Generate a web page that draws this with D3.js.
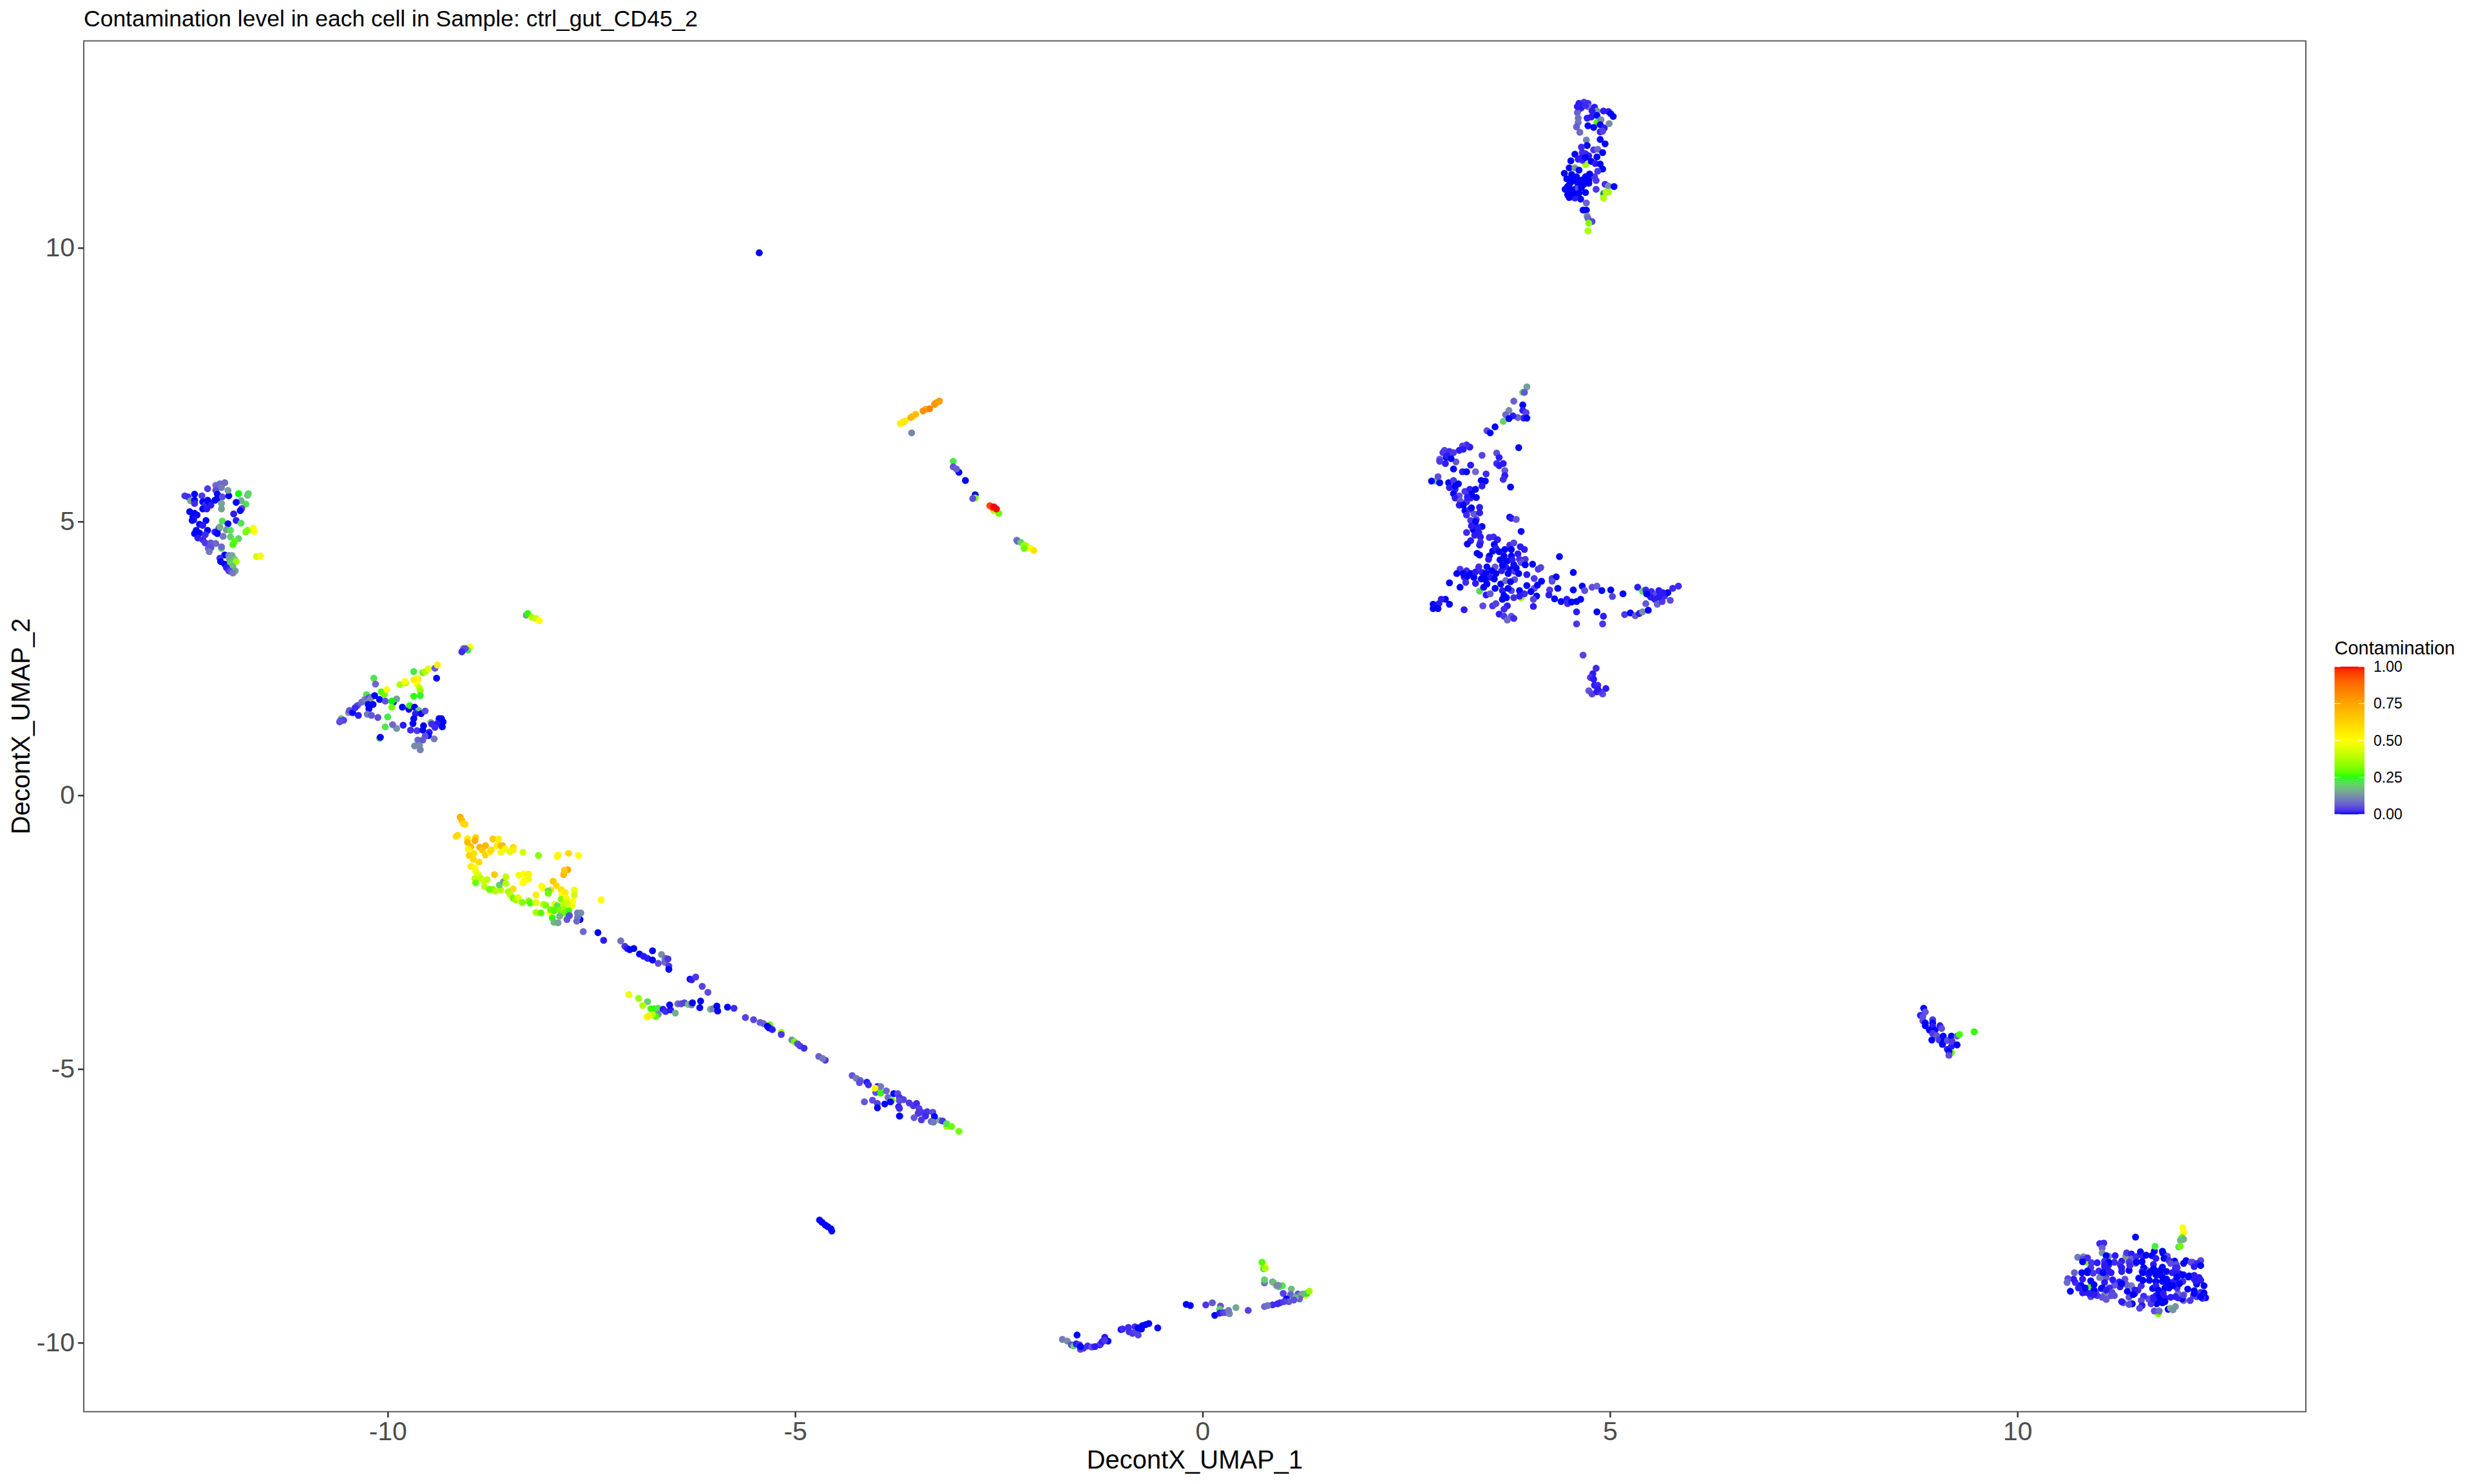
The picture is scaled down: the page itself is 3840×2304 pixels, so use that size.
<!DOCTYPE html>
<html>
<head>
<meta charset="utf-8">
<script src="https://cdn.jsdelivr.net/npm/d3@7"></script>
<style>
body { margin: 0; background: #fff; }
text { font-family: "Liberation Sans", Arial, sans-serif; }
</style>
</head>
<body>
<div id="chart"></div>
<script>
// each cell as [DecontX_UMAP_1, DecontX_UMAP_2, contamination]
const upperLeftCells = [
[-12.04,5.65,.25],[-12.04,4.51,.2],[-12.07,4.88,.01],[-12.49,5.47,.03],[-12.45,5.45,.02],[-12.42,5.38,.15],[-12.37,5.50,0],[-12.37,5.39,0],[-12.37,5.33,.02],[-12.28,5.47,.03],[-12.27,5.36,0],[-12.24,5.30,.02],[-12.21,5.60,.03],[-12.21,5.39,0],[-12.20,5.36,0],[-12.27,5.23,0],[-12.22,5.23,.01],[-12.17,5.30,.01],[-12.12,5.39,0],[-12.09,5.42,0],[-12.11,5.66,.08],[-12.06,5.69,.08],[-12.00,5.71,.08],[-12.04,5.62,.1],[-12.11,5.57,.05],[-12.09,5.50,0],[-12.03,5.45,.05],[-11.95,5.47,0],[-11.96,5.57,.14],[-12.04,5.33,.15],[-12.04,5.23,.14],[-11.83,5.51,.25],[-11.72,5.48,.18],[-11.71,5.51,.2],[-11.74,5.32,.22],[-11.80,5.38,.16],[-11.86,5.35,0],[-11.79,5.24,.04],[-11.81,5.20,0],[-11.89,5.14,.01],[-11.86,5.02,.01],[-11.80,4.97,.22],[-12.03,5.01,.22],[-11.96,4.96,0],[-12.23,5.02,0],[-12.43,5.18,0],[-12.37,5.15,0],[-12.34,5.12,0],[-12.39,5.09,0],[-12.38,5.03,.01],[-12.40,5.02,0],[-12.31,4.95,0],[-12.27,4.93,.01],[-12.21,4.84,0],[-12.35,4.84,0],[-12.31,4.79,0],[-12.37,4.78,0],[-12.33,4.70,.01],[-12.24,4.76,.02],[-12.12,4.81,.01],[-12.09,4.78,0],[-12.06,4.90,.16],[-11.98,4.85,.14],[-11.93,4.84,.22],[-11.74,4.81,.3],[-11.72,4.84,.32],[-11.65,4.88,.5],[-11.64,4.82,.5],[-11.83,4.69,.2],[-12.02,4.73,.1],[-11.93,4.72,.2],[-11.88,4.64,.28],[-11.90,4.58,.27],[-12.27,4.67,.02],[-12.24,4.61,.03],[-12.17,4.61,.06],[-12.11,4.60,.08],[-12.20,4.51,.06],[-12.17,4.52,.05],[-12.04,4.54,.08],[-12.19,4.45,.1],[-11.61,4.36,.42],[-11.56,4.37,.52],[-12.00,4.39,0],[-12.06,4.33,.02],[-12.05,4.27,0],[-12.00,4.22,0],[-11.95,4.38,.12],[-11.91,4.38,.15],[-11.94,4.31,.15],[-11.88,4.31,.18],[-11.93,4.24,.2],[-11.86,4.27,.35],[-11.90,4.18,.18],[-11.98,4.16,.01],[-11.95,4.10,.02],[-11.93,4.09,.05],[-11.87,4.10,.15],[-11.90,4.06,.1]
];
const midLeftCells = [
[-10.57,1.40,.18],[-10.58,1.36,.05],[-10.54,1.37,.04],[-10.59,1.34,.05],[-10.48,1.51,.12],[-10.47,1.55,.06],[-10.43,1.51,0],[-10.36,1.46,.01],[-10.37,1.64,.05],[-10.40,1.60,.02],[-10.32,1.70,.08],[-10.26,1.84,.22],[-10.28,1.75,.1],[-10.23,1.78,.05],[-10.20,1.79,.1],[-10.16,1.82,0],[-10.22,1.74,.12],[-10.24,1.66,0],[-10.18,1.66,0],[-10.23,1.58,0],[-10.25,1.48,.1],[-10.20,1.46,.06],[-10.12,1.42,.05],[-10.10,1.75,0],[-10.03,1.72,.05],[-9.93,1.70,0],[-9.89,1.76,.14],[-9.95,1.72,.25],[-9.95,1.61,.3],[-9.82,1.61,0],[-9.74,1.57,0],[-9.73,1.64,.26],[-9.67,1.61,0],[-9.62,1.55,.18],[-9.66,1.49,.01],[-9.59,1.49,0],[-9.54,1.54,.05],[-9.68,1.40,0],[-9.69,1.31,0],[-9.81,1.28,.01],[-9.89,1.22,.13],[-9.94,1.29,.08],[-10.00,1.43,.23],[-10.03,1.25,.22],[-9.72,1.19,.02],[-9.64,1.18,.03],[-9.56,1.27,0],[-9.57,1.19,0],[-9.47,1.33,.16],[-9.46,1.30,.02],[-9.37,1.40,0],[-9.34,1.40,0],[-9.32,1.34,0],[-9.39,1.31,.01],[-9.42,1.24,.02],[-9.33,1.25,0],[-9.49,1.15,.01],[-9.50,1.09,0],[-9.54,1.08,.05],[-9.63,1.01,.08],[-9.57,1.01,.06],[-9.43,1.03,.1],[-9.67,.90,.12],[-9.61,.91,.12],[-9.60,.83,.11],[-10.10,1.04,.2],[-10.09,1.06,0],[-10.17,2.14,.22],[-10.15,2.03,.08],[-10.08,1.89,.28],[-10.04,1.84,.3],[-10.01,1.93,.5],[-9.85,2.02,.37],[-9.78,2.05,.4],[-9.79,2.08,.5],[-9.68,2.26,.23],[-9.57,2.24,.3],[-9.54,2.26,.38],[-9.50,2.31,.45],[-9.42,2.32,.07],[-9.39,2.38,.55],[-9.63,2.12,.7],[-9.64,2.12,.5],[-9.68,2.11,.55],[-9.64,2.03,.5],[-9.61,1.96,.4],[-9.60,1.91,.35],[-9.68,1.81,.26],[-9.60,1.82,.24],[-9.40,2.14,0],[-8.99,2.71,.5],[-9.02,2.65,.23],[-9.07,2.68,.1],[-9.05,2.68,.05],[-9.09,2.62,.02],[-8.30,3.29,.15],[-8.28,3.32,.26],[-8.23,3.25,.38],[-8.18,3.23,.42],[-8.14,3.19,.5]
];
const fanCells = [
[-9.11,-.40,.72],[-9.09,-.46,.68],[-9.07,-.52,.62],[-9.05,-.53,.6],[-9.16,-.75,.6],[-9.14,-.73,.6],[-9.02,-.79,.55],[-8.92,-.77,.62],[-9.02,-.86,.7],[-8.93,-.83,.72],[-8.98,-.94,.68],[-8.87,-.95,.72],[-8.84,-1.00,.65],[-8.80,-.92,.7],[-8.80,-1.09,.62],[-8.75,-1.04,.55],[-8.73,-1.00,.6],[-8.71,-.80,.65],[-8.64,-.80,.55],[-8.66,-.92,.55],[-8.61,-.92,.68],[-8.59,-.92,.7],[-8.61,-1.04,.48],[-8.56,-.98,.48],[-8.50,-1.03,.45],[-8.46,-.95,.6],[-8.46,-1.00,.55],[-8.34,-1.04,.43],[-8.15,-1.10,.33],[-7.92,-1.12,.52],[-7.91,-1.09,.52],[-7.78,-1.06,.6],[-7.66,-1.10,.5],[-9.01,-.98,.52],[-8.94,-1.06,.58],[-9.00,-1.10,.62],[-8.95,-1.17,.6],[-8.88,-1.22,.6],[-8.98,-1.30,.55],[-8.93,-1.33,.52],[-8.92,-1.39,.48],[-8.89,-1.45,.45],[-8.93,-1.52,.4],[-8.86,-1.51,.4],[-8.82,-1.57,.42],[-8.78,-1.54,.4],[-8.92,-1.60,.3],[-8.81,-1.67,.4],[-8.75,-1.72,.3],[-8.71,-1.72,.3],[-8.68,-1.75,.38],[-8.61,-1.73,.4],[-8.63,-1.64,.2],[-8.58,-1.58,.14],[-8.55,-1.49,.4],[-8.55,-1.61,.38],[-8.69,-1.45,.65],[-8.39,-1.46,.48],[-8.33,-1.44,.5],[-8.27,-1.44,.53],[-8.27,-1.53,.47],[-8.34,-1.60,.5],[-8.33,-1.57,.5],[-8.46,-1.71,.6],[-8.52,-1.76,.36],[-8.50,-1.81,.4],[-8.46,-1.88,.3],[-8.43,-1.91,.35],[-8.40,-1.87,.45],[-8.35,-1.96,.32],[-8.27,-1.93,.33],[-8.25,-1.97,.28],[-8.18,-1.82,.55],[-8.18,-1.96,.45],[-8.09,-1.99,.4],[-8.06,-2.01,.32],[-8.18,-2.14,.38],[-8.12,-2.15,.28],[-8.01,-2.14,.5],[-7.79,-1.36,.75],[-7.84,-1.45,.7],[-7.83,-1.37,.65],[-7.97,-1.57,.65],[-7.93,-1.65,.6],[-8.11,-1.66,.5],[-8.10,-1.69,.5],[-8.00,-1.73,.6],[-8.03,-1.75,.2],[-8.03,-1.79,.3],[-7.87,-1.72,.58],[-7.86,-1.81,.5],[-7.82,-1.78,.55],[-7.71,-1.73,.48],[-7.71,-1.82,.42],[-7.87,-1.90,.32],[-7.81,-1.88,.5],[-7.73,-1.93,.5],[-7.74,-2.02,.48],[-7.95,-1.99,.45],[-7.92,-2.02,.22],[-7.84,-1.99,.4],[-7.80,-1.97,.42],[-8.00,-2.09,.3],[-7.96,-2.11,.28],[-7.89,-2.09,.3],[-7.84,-2.08,.35],[-7.78,-2.11,.27],[-7.83,-2.15,.3],[-7.78,-2.17,.24],[-7.98,-2.24,.26],[-7.89,-2.21,.17],[-7.96,-2.32,.17],[-7.91,-2.33,.15],[-7.64,-2.27,0],[-7.67,-2.15,.1],[-7.63,-2.15,.12],[-7.67,-2.23,.1],[-7.68,-2.30,.08],[-7.80,-2.27,.06],[-7.77,-2.20,.05],[-7.38,-1.91,.5]
];
const diagonalCells = [
[-7.60,-2.49,.08],[-7.42,-2.51,0],[-7.35,-2.65,.01],[-7.14,-2.66,.09],[-7.09,-2.76,.03],[-7.06,-2.80,.01],[-7.03,-2.82,0],[-6.98,-2.80,0],[-6.75,-2.84,0],[-6.91,-2.90,0],[-6.86,-2.94,.01],[-6.81,-2.98,.01],[-6.75,-3.01,0],[-6.68,-3.07,.05],[-6.64,-2.91,.12],[-6.60,-3.00,.3],[-6.59,-2.98,.08],[-6.60,-3.05,.08],[-6.56,-2.99,.03],[-6.55,-3.12,.03],[-6.55,-3.18,0],[-6.29,-3.36,0],[-6.27,-3.37,.01],[-6.22,-3.32,.03],[-6.14,-3.49,.04],[-6.07,-3.60,.05],[-7.04,-3.64,.47],[-6.92,-3.71,.35],[-6.81,-3.77,.2],[-6.87,-3.84,.38],[-6.77,-3.90,.27],[-6.73,-3.90,.26],[-6.68,-3.89,.22],[-6.68,-4.00,.12],[-6.71,-4.04,.28],[-6.75,-4.01,.4],[-6.82,-4.05,.52],[-6.80,-4.03,.55],[-6.62,-3.91,.01],[-6.59,-3.95,.02],[-6.53,-3.92,.01],[-6.54,-3.83,0],[-6.47,-3.98,.16],[-6.44,-3.81,.08],[-6.40,-3.81,.05],[-6.36,-3.79,.04],[-6.31,-3.82,.18],[-6.27,-3.83,.1],[-6.26,-3.79,0],[-6.16,-3.76,0],[-6.17,-3.88,0],[-6.04,-3.91,.18],[-6.01,-3.90,.1],[-5.96,-3.85,0],[-5.95,-3.94,0],[-5.83,-3.87,0],[-5.75,-3.89,.02],[-5.61,-4.06,.04],[-5.51,-4.10,.04],[-5.43,-4.15,.06],[-5.39,-4.17,.07],[-5.31,-4.19,.3],[-5.34,-4.22,0],[-5.32,-4.25,0],[-5.28,-4.28,.01],[-5.17,-4.33,.35],[-5.17,-4.37,.03],[-5.04,-4.47,.12],[-5.01,-4.50,.3],[-4.97,-4.54,.05],[-4.94,-4.58,.04],[-4.89,-4.62,.02],[-4.71,-4.77,.07],[-4.63,-4.84,.03],[-4.66,-4.81,.1],
[-4.30,-5.12,.06],[-4.25,-5.17,.1],[-4.20,-5.21,.07],[-4.21,-5.25,.05],[-4.12,-5.24,.01],[-4.10,-5.29,.02],[-3.99,-5.32,.01],[-3.95,-5.32,.1],[-4.01,-5.43,.05],[-4.02,-5.35,.52],[-3.95,-5.44,.26],[-3.88,-5.40,.08],[-3.79,-5.45,0],[-3.74,-5.45,.05],[-3.86,-5.52,.08],[-3.81,-5.57,.32],[-3.83,-5.60,0],[-3.72,-5.52,.03],[-3.67,-5.56,.04],[-3.72,-5.58,.05],[-4.15,-5.60,.06],[-4.05,-5.57,.05],[-3.99,-5.63,.04],[-3.99,-5.71,0],[-3.90,-5.64,0],[-3.73,-5.69,.01],[-3.72,-5.72,.02],[-3.60,-5.62,.03],[-3.55,-5.67,.03],[-3.51,-5.63,.02],[-3.48,-5.72,.04],[-3.49,-5.81,.03],[-3.45,-5.79,.03],[-3.38,-5.78,.03],[-3.31,-5.79,.05],[-3.40,-5.86,.02],[-3.29,-5.87,0],[-3.54,-5.89,.06],[-3.45,-5.93,.03],[-3.33,-5.96,.08],[-3.30,-5.97,.1],[-3.22,-5.94,.15],[-3.19,-5.95,.03],[-3.71,-5.86,.17],[-3.72,-5.86,0],[-3.14,-6.05,.35],[-3.14,-6.00,.22],[-3.08,-6.05,.3],[-2.99,-6.14,.3]
];
const upperStreakCells = [
[-3.71,6.79,.52],[-3.67,6.82,.85],[-3.65,6.84,.55],[-3.69,6.80,.55],[-3.58,6.90,.72],[-3.56,6.92,.7],[-3.52,6.96,.68],[-3.40,7.05,.72],[-3.43,7.02,.8],[-3.35,7.06,.83],[-3.29,7.14,.78],[-3.27,7.17,.8],[-3.23,7.20,.82],[-3.24,7.19,.76],[-3.57,6.62,.11],[-3.06,6.10,.23],[-3.06,6.00,.06],[-2.99,5.90,0],[-3.02,5.96,.07],[-2.91,5.75,0],[-2.79,5.49,0],[-2.79,5.43,.32],[-2.82,5.42,.05],[-2.56,5.20,.4],[-2.50,5.15,.3],[-2.61,5.29,.95],[-2.58,5.26,.95],[-2.56,5.27,1],[-2.53,5.23,1],[-2.28,4.66,.1],[-2.27,4.64,.08],[-2.23,4.62,.2],[-2.16,4.55,.4],[-2.19,4.57,.35],[-2.11,4.51,.5],[-2.07,4.47,.58],[-2.19,4.51,.3]
];
const lowerStripCells = [
[-1.72,-9.94,.1],[-1.66,-9.97,.12],[-1.54,-9.86,0],[-1.61,-10.04,.05],[-1.58,-10.06,.2],[-1.55,-10.02,.01],[-1.51,-10.04,.03],[-1.50,-10.12,.05],[-1.46,-10.10,.03],[-1.50,-10.07,0],[-1.41,-10.06,.02],[-1.36,-10.08,.05],[-1.32,-10.07,.01],[-1.26,-10.04,.01],[-1.25,-10.02,.03],[-1.23,-9.98,.01],[-1.20,-9.90,.01],[-1.16,-9.97,0],[-1.20,-9.96,.03],[-1.00,-9.76,0],[-.98,-9.75,.02],[-.91,-9.72,.02],[-.90,-9.80,.02],[-.86,-9.83,.03],[-.83,-9.71,.02],[-.82,-9.80,.04],[-.79,-9.86,.04],[-.79,-9.73,0],[-.75,-9.75,0],[-.74,-9.69,0],[-.70,-9.67,0],[-.66,-9.65,0],[-.55,-9.73,0],[-.20,-9.30,0],[-.15,-9.32,0],[.04,-9.31,.03],[.12,-9.27,.06],[.22,-9.33,.06],[.21,-9.39,.2],[.15,-9.50,0],[.21,-9.46,.01],[.25,-9.45,.03],[.28,-9.45,.05],[.33,-9.47,.12],[.32,-9.41,.1],[.41,-9.36,.15],[.56,-9.41,.04],[.75,-8.59,.5],[.73,-8.53,.28],[.75,-8.65,.22],[.77,-8.64,.38],[.76,-8.91,.09],[.76,-8.85,.2],[.86,-8.89,.12],[.87,-8.90,.18],[.98,-8.96,.23],[.94,-8.98,.2],[.91,-8.96,.12],[.93,-8.95,.12],[1.09,-9.02,.17],[.99,-9.10,.04],[1.08,-9.12,.07],[1.25,-9.14,.5],[1.28,-9.10,.25],[1.31,-9.06,.35],[1.17,-9.11,.06],[1.23,-9.11,.17],[1.21,-9.13,.16],[1.19,-9.20,.07],[1.14,-9.17,.16],[1.12,-9.22,.05],[1.03,-9.20,0],[1.06,-9.25,.06],[1.00,-9.25,.04],[.95,-9.27,.03],[.92,-9.29,.02],[.86,-9.31,.02],[.76,-9.34,.08],[.80,-9.32,.09]
];
const starCells = [
[3.91,3.61,.35],[3.40,3.73,.2],[3.98,7.46,.14],[3.93,7.36,.2],[3.95,7.36,.06],[3.82,7.20,.07],[3.76,7.03,.12],[3.69,6.83,.2],[3.72,6.95,.08],[3.93,7.13,0],[3.93,7.03,.01],[3.97,6.99,.04],[3.94,6.89,.01],[3.98,6.89,0],[3.87,6.90,.07],[3.81,6.93,.01],[3.76,6.88,0],[3.59,6.73,0],[3.49,6.66,.05],[3.53,6.62,0],[3.88,6.35,0],[3.28,6.36,.01],[3.24,6.40,.02],[3.19,6.38,.04],[3.15,6.30,.01],[2.97,6.30,.04],[3.03,6.28,.02],[3.08,6.26,.03],[2.95,6.26,.03],[2.91,6.14,.06],[2.99,6.17,0],[3.11,6.09,.06],[2.98,6.06,.01],[2.91,6.10,.03],[3.08,5.96,0],[3.29,6.03,.01],[3.43,6.21,.04],[3.61,6.25,.05],[3.64,6.17,.01],[3.61,6.06,.02],[3.69,6.06,.01],[3.64,6.02,.01],[3.71,5.93,.06],[3.71,5.84,.01],[3.69,5.77,.02],[3.78,5.63,0],[3.19,5.91,.01],[3.24,5.91,0],[3.35,5.91,.08],[3.48,5.87,.02],[3.47,5.74,0],[3.42,5.75,0],[3.43,5.65,.01],[2.86,5.74,.2],[2.81,5.74,0],[2.91,5.71,0],[2.89,5.82,.05],[3.02,5.71,0],[3.08,5.75,.03],[3.14,5.69,0],[3.03,5.62,.01],[3.10,5.59,.02],[3.08,5.51,0],[3.15,5.47,.05],[3.10,5.43,.01],[3.22,5.55,.03],[3.28,5.59,.01],[3.35,5.59,0],[3.29,5.43,.01],[3.36,5.44,0],[3.16,5.38,.06],[3.15,5.30,.01],[3.24,5.36,.02],[3.40,5.26,.01],[3.22,5.20,0],[3.28,5.22,.02],[3.33,5.14,.06],[3.40,5.16,.01],[3.24,5.12,.02],[3.29,5.02,.03],[3.36,5.04,.04],[3.35,4.94,.02],[3.43,4.91,0],[3.32,4.86,.01],[3.24,4.80,.02],[3.33,4.84,0],[3.39,4.80,.01],[3.34,4.75,.01],[3.41,4.72,.01],[3.29,4.65,.01],[3.25,4.59,0],[3.41,4.62,.02],[3.40,4.57,.01],[3.37,4.42,0],[3.40,4.39,0],[3.77,5.08,0],[3.79,5.06,.01],[3.85,5.04,.06],[3.91,4.82,0],[3.52,4.71,.02],[3.57,4.72,.02],[3.62,4.67,.01],[3.58,4.58,0],[3.56,4.46,0],[3.60,4.51,.01],[3.64,4.45,0],[3.52,4.37,0],[3.51,4.31,.01],[3.71,4.49,0],[3.77,4.57,.02],[3.82,4.61,.04],[3.90,4.54,.01],[3.95,4.49,.01],[3.79,4.49,0],[3.87,4.41,.01],[3.70,4.37,0],[3.79,4.37,0],[3.89,4.31,.02],[3.96,4.31,.03],[3.70,4.25,.01],[3.74,4.28,0],[3.82,4.21,0],[3.91,4.25,.05],[3.96,4.21,0],[3.72,4.17,.01],[3.78,4.12,0],[3.83,4.09,.03],[3.88,4.05,0],[3.67,4.10,.01],[3.59,4.17,.06],[3.49,4.17,0],[3.39,4.17,.02],[3.43,4.07,.01],[3.48,4.05,0],[3.53,3.98,.01],[3.47,3.94,0],[3.16,4.13,.03],[3.12,4.05,0],[3.24,4.10,.02],[3.29,4.05,0],[3.33,3.98,0],[3.21,3.99,.01],[3.03,3.88,0],[3.16,3.80,0],[3.23,3.89,.02],[3.35,3.87,.01],[3.66,3.86,0],[3.72,3.92,.08],[3.83,3.94,.05],[3.78,3.90,0],[3.49,3.86,0],[3.48,3.66,.01],[3.53,3.68,.06],[3.59,3.78,0],[3.68,3.74,.01],[3.70,3.65,0],[3.79,3.74,.04],[3.89,3.74,0],[3.98,3.83,0],[4.05,4.22,0],[3.98,4.03,.01],[4.07,3.96,.03],[4.12,4.13,.03],[4.15,4.16,.04],[4.16,3.91,0],[4.07,3.78,.05],[4.11,3.84,0],[4.03,3.72,0],[3.95,3.68,.02],[3.89,3.64,.01],[3.82,3.61,.02],[3.68,3.58,0],[3.73,3.61,0],[4.10,3.64,0],[4.06,3.58,.04],[4.06,3.45,.01],[3.44,3.46,.05],[3.21,3.39,.01],[3.03,3.49,0],[2.98,3.58,0],[2.93,3.58,.01],[2.90,3.50,.01],[2.83,3.49,0],[2.89,3.41,0],[2.83,3.41,0],[3.56,3.46,.03],[3.60,3.50,.04],[3.74,3.46,.01],[3.70,3.40,.02],[3.64,3.31,.01],[3.70,3.27,.03],[3.79,3.27,.06],[3.74,3.20,.08],[3.82,3.23,.02],[4.29,3.96,.03],[4.34,3.99,0],[4.29,3.91,.05],[4.36,3.78,0],[4.26,3.75,.03],[4.25,3.66,.01],[4.32,3.59,0],[4.38,4.36,0],[4.55,4.07,0],[4.55,3.75,0],[4.40,3.54,0],[4.47,3.58,.01],[4.48,3.50,.02],[4.53,3.53,0],[4.59,3.54,0],[4.64,3.58,0],[4.59,3.35,.01],[4.59,3.13,.03],[4.66,3.82,0],[4.69,3.74,.05],[4.78,3.80,.05],[4.84,3.82,.07],[4.90,3.74,0],[5.01,3.75,0],[5.03,3.63,.04],[5.16,3.68,0],[4.84,3.35,0],[4.92,3.27,.01],[4.91,3.13,.03],[5.18,3.30,.03],[5.25,3.33,0],[5.31,3.28,.06],[5.36,3.32,.01],[5.40,3.35,.12],[5.47,3.38,0],[5.44,3.50,.06],[5.34,3.80,.01],[5.40,3.73,.2],[5.44,3.75,.02],[5.48,3.66,.02],[5.51,3.72,.02],[5.56,3.66,.05],[5.60,3.74,.01],[5.55,3.58,.01],[5.58,3.49,.07],[5.64,3.54,.03],[5.67,3.64,.02],[5.71,3.70,0],[5.74,3.56,.05],[5.77,3.78,.02],[5.84,3.82,.02],[4.67,2.56,.04],[4.83,2.32,.02],[4.79,2.22,.01],[4.76,2.15,.03],[4.80,2.12,.01],[4.81,2.01,.01],[4.85,2.01,.02],[4.95,1.95,.01],[4.74,1.91,.06],[4.78,1.85,.04],[4.84,1.89,.01],[4.91,1.85,.05],[4.88,1.89,.03],[4.85,1.94,.01],
[3.68,4.20,0],[3.75,4.05,0],[3.85,4.15,0],[3.80,4.30,.01],[3.65,4.30,0],[3.60,4.05,0],[3.55,4.10,0],[3.45,4.00,0],[3.25,4.00,0],[3.35,4.08,.01],[3.20,4.05,0],[3.42,3.95,0],[3.58,3.95,0],[3.75,3.78,0],[3.45,3.80,0],[3.30,5.50,0],[3.25,5.45,.01],[3.30,5.25,0],[3.20,5.30,0],[3.35,5.00,0],[3.38,4.88,.01],[3.30,4.92,.01],[3.10,5.65,0],[3.00,6.20,.01],[3.05,6.15,0],[3.20,6.32,.01],[5.50,3.62,.01],[5.45,3.68,0],[5.60,3.62,.01],[5.65,3.70,.01]
];
const topBlobCells = [
[4.84,12.29,.28],[4.70,11.52,.36],[4.92,10.99,.25],[4.62,12.64,.01],[4.68,12.66,.03],[4.73,12.64,.02],[4.65,12.56,.01],[4.73,12.58,.08],[4.81,12.57,.01],[4.84,12.50,.14],[4.62,12.53,.01],[4.60,12.47,.07],[4.92,12.50,.01],[4.98,12.49,.01],[5.01,12.45,0],[5.04,12.40,0],[4.72,12.37,.01],[4.77,12.39,.01],[4.84,12.42,0],[4.61,12.37,.09],[4.61,12.29,.09],[4.59,12.21,.07],[4.63,12.11,.08],[4.73,12.23,0],[4.80,12.20,0],[4.89,12.34,.12],[4.88,12.25,0],[4.93,12.19,.01],[4.99,12.27,.12],[4.88,12.12,.01],[4.91,12.13,.04],[4.71,11.97,.11],[4.88,11.98,0],[4.94,11.90,0],[4.72,11.87,0],[4.65,11.84,.02],[4.80,11.79,.03],[4.85,11.80,.08],[4.91,11.74,0],[4.57,11.71,0],[4.66,11.74,.02],[4.70,11.72,.02],[4.74,11.68,.01],[4.84,11.66,0],[4.52,11.59,0],[4.61,11.62,.01],[4.66,11.60,.02],[4.77,11.58,0],[4.82,11.54,.01],[4.88,11.53,0],[4.50,11.46,0],[4.57,11.46,.13],[4.62,11.42,0],[4.91,11.44,0],[4.85,11.40,.03],[4.44,11.36,0],[4.53,11.34,0],[4.59,11.30,0],[4.81,11.30,.03],[4.66,11.24,0],[4.74,11.24,0],[4.83,11.23,.03],[4.47,11.26,0],[4.53,11.21,0],[4.61,11.15,.01],[4.68,11.16,0],[4.74,11.18,0],[4.45,11.07,0],[4.51,11.07,0],[4.57,11.07,0],[4.61,11.09,.05],[4.70,11.01,0],[4.48,10.97,0],[4.56,10.95,0],[4.64,10.89,0],[4.57,10.91,.01],[4.83,11.07,.03],[4.94,11.16,.02],[4.98,11.13,.12],[5.05,11.12,0],[4.93,11.00,.05],[4.95,11.02,.37],[4.98,11.02,.37],[4.92,10.91,.38],[4.71,10.82,.07],[4.67,10.69,0],[4.71,10.69,0],[4.72,10.58,.12],[4.73,10.54,.08],[4.78,10.48,.04],[4.74,10.45,.32],[4.73,10.31,.37],
[4.50,11.15,0],[4.55,11.25,0],[4.60,11.20,0],[4.55,11.00,0],[4.48,11.12,0],[4.50,10.92,0],[4.62,11.00,0],[4.65,11.10,0],[4.70,11.30,0],[4.75,11.35,0],[4.65,11.65,.01],[4.70,11.65,0],[4.65,12.60,.01],[4.70,12.60,.02],[4.60,12.58,.01],[4.78,12.50,.01]
];
const rightSmallCells = [
[8.85,-3.89,0],[8.87,-3.96,.06],[8.81,-4.02,.01],[8.84,-4.04,.05],[8.84,-4.12,.05],[8.87,-4.16,0],[8.87,-4.21,0],[8.96,-4.10,.03],[8.96,-4.16,0],[8.96,-4.22,.01],[9.05,-4.21,.01],[9.07,-4.26,.05],[8.92,-4.29,0],[8.99,-4.29,0],[8.96,-4.35,.03],[9.01,-4.39,.06],[8.95,-4.47,0],[9.04,-4.47,.03],[9.09,-4.40,0],[9.08,-4.55,0],[9.10,-4.49,0],[9.14,-4.48,.05],[9.19,-4.40,0],[9.19,-4.59,.01],[9.20,-4.50,.03],[9.26,-4.40,.08],[9.29,-4.37,.27],[9.26,-4.56,0],[9.47,-4.32,.26],[9.19,-4.70,.3],[9.14,-4.64,.01],[9.16,-4.68,0],[9.16,-4.75,.05]
];
const bottomBlobCells = [
[11.73,-9.47,.3],[10.84,-8.53,.3],[10.89,-8.98,.28],[11.34,-8.43,.28],[11.78,-8.36,.28],[11.45,-8.07,0],[11.06,-8.18,.02],[11.01,-8.19,.02],[11.04,-8.27,.07],[11.04,-8.36,.13],[11.12,-8.42,.12],[11.09,-8.41,0],[11.20,-8.41,.01],[10.74,-8.44,.1],[10.81,-8.43,.12],[10.80,-8.47,.05],[10.86,-8.45,.02],[10.80,-8.52,0],[10.91,-8.54,.03],[10.98,-8.54,.01],[10.90,-8.63,.03],[11.07,-8.51,.02],[11.12,-8.58,.01],[11.19,-8.53,.02],[11.28,-8.51,.01],[11.26,-8.57,.02],[11.28,-8.63,.01],[11.28,-8.70,.01],[11.37,-8.68,0],[11.33,-8.42,.14],[11.34,-8.36,.03],[11.40,-8.38,.01],[11.40,-8.47,.07],[11.45,-8.55,.08],[11.37,-8.53,.03],[11.38,-8.59,.02],[11.46,-8.43,.02],[11.51,-8.34,0],[11.54,-8.42,.01],[11.53,-8.52,0],[11.58,-8.40,0],[11.65,-8.41,0],[11.68,-8.33,0],[11.70,-8.46,.01],[11.69,-8.24,.23],[11.78,-8.33,0],[11.79,-8.37,0],[11.84,-8.42,.05],[11.80,-8.46,0],[11.86,-8.50,.02],[11.93,-8.51,0],[11.88,-8.55,.05],[11.95,-8.57,.05],[11.78,-8.62,0],[11.77,-8.65,0],[11.67,-8.57,.01],[11.67,-8.65,0],[11.59,-8.68,.08],[11.55,-8.63,0],[11.53,-8.70,.02],[11.61,-8.76,.01],[11.70,-8.69,0],[11.75,-8.72,0],[11.83,-8.70,0],[11.94,-8.64,.01],[11.96,-8.63,.02],[11.90,-8.72,.01],[12.04,-8.55,0],[12.07,-8.50,0],[12.15,-8.53,.05],[12.13,-8.53,.05],[12.25,-8.50,.04],[12.21,-8.55,.02],[12.17,-8.61,.01],[12.25,-8.59,0],[11.99,-8.74,.01],[11.94,-8.74,.01],[12.04,-8.76,.01],[12.11,-8.78,0],[12.17,-8.77,.01],[12.23,-8.81,.01],[12.25,-8.86,.01],[12.20,-8.93,0],[12.19,-8.88,.01],[12.29,-8.96,0],[12.09,-9.02,0],[12.17,-9.05,0],[12.25,-9.08,.03],[12.29,-9.09,0],[12.31,-9.18,0],[12.27,-9.19,.02],[12.20,-9.16,.03],[12.16,-9.14,.04],[12.12,-9.23,.03],[12.04,-9.23,.07],[12.02,-9.20,0],[11.97,-9.18,.01],[11.97,-9.10,.08],[12.04,-9.13,.04],[11.88,-9.17,.01],[11.78,-9.27,0],[11.71,-9.29,0],[11.81,-9.18,.01],[11.86,-9.00,0],[11.83,-8.96,0],[11.88,-8.90,.01],[11.94,-8.86,.01],[11.96,-9.00,.02],[12.03,-8.88,.02],[11.78,-8.88,0],[11.70,-8.88,0],[11.66,-9.01,0],[11.70,-8.96,.01],[11.62,-8.86,0],[11.75,-9.08,.02],[11.70,-9.14,.01],[11.66,-9.18,.01],[11.61,-9.20,.05],[11.64,-9.29,.03],[11.68,-9.42,.05],[11.74,-9.42,.08],[11.85,-9.39,0],[11.94,-9.34,.13],[11.88,-9.37,.16],[11.91,-9.40,.13],[11.55,-9.15,.02],[11.52,-9.23,.05],[11.53,-9.32,.01],[11.50,-9.37,.04],[11.41,-9.29,0],[11.37,-9.30,.05],[11.30,-9.27,.06],[11.28,-9.25,.01],[11.37,-9.17,.05],[11.35,-9.06,0],[11.44,-9.10,.01],[11.48,-9.04,.02],[11.52,-8.96,.02],[11.49,-8.82,0],[11.54,-8.86,0],[11.40,-8.96,.1],[11.34,-8.94,.07],[11.32,-8.84,.05],[11.25,-8.89,.01],[11.26,-8.98,.01],[11.19,-8.95,.06],[11.17,-8.85,.01],[11.09,-8.81,.06],[11.01,-8.81,.1],[11.15,-8.72,.01],[11.09,-8.72,.02],[11.07,-8.90,.01],[11.13,-9.00,.02],[11.03,-9.01,0],[11.16,-9.08,.04],[11.19,-9.14,.05],[11.15,-9.14,.05],[11.07,-9.12,.11],[11.09,-9.21,.06],[11.04,-9.17,.06],[10.98,-9.14,.03],[10.96,-9.08,.03],[10.90,-9.16,.04],[10.80,-9.09,.01],[10.84,-9.08,.01],[10.83,-9.00,0],[10.78,-8.95,0],[10.75,-9.00,.01],[10.71,-8.90,.02],[10.69,-8.84,.01],[10.62,-8.83,.05],[10.61,-8.90,.08],[10.65,-9.06,0],[10.80,-8.84,.01],[10.90,-8.87,0],[10.94,-8.94,0],[10.70,-8.72,.07],[10.79,-8.72,0],[10.86,-8.72,0],[10.93,-8.73,.03],[11.00,-8.69,.02],[12.03,-7.90,.5],[12.04,-7.98,.5],[12.02,-8.08,.28],[12.04,-8.11,.16],[12.00,-8.13,.17],[11.98,-8.25,.2],[12.00,-8.24,.3],
[11.73,-8.76,0],[11.78,-8.80,0],[11.83,-8.84,0],[11.86,-8.94,0],[11.81,-9.00,0],[11.91,-8.96,0],[11.73,-9.16,0],[11.75,-9.23,0],[11.81,-9.25,0],[11.67,-9.20,.01],[11.73,-9.04,0],[11.79,-9.10,.01],[11.96,-8.80,0],[11.99,-8.92,0],[12.10,-8.80,0],[12.17,-8.84,.01],[12.25,-9.16,0],[12.17,-9.10,0],[11.94,-9.16,.01],[12.02,-8.76,0],[10.86,-8.69,0],[11.07,-8.61,.01],[11.05,-8.72,0],[11.12,-8.69,.01],[10.94,-9.04,0],[10.88,-9.10,.01],[10.94,-9.12,.01],[11.04,-9.00,0],[11.09,-9.04,.01],[11.12,-8.53,0],[11.07,-8.57,.01],[11.28,-8.92,0],[11.44,-9.04,.01],[11.42,-9.12,0],[11.46,-8.53,0],[11.62,-8.72,0],[11.54,-8.72,0],[11.65,-8.69,0],[11.70,-8.76,0]
];
const looseCells = [
[-5.44,9.91,0],[-4.70,-7.76,0],[-4.67,-7.80,0],[-4.63,-7.85,0],[-4.60,-7.88,0],[-4.56,-7.92,0],[-4.55,-7.96,0]
];

const xTicks = [-10, -5, 0, 5, 10];
const yTicks = [-10, -5, 0, 5, 10];
const legendTicks = [0, 0.25, 0.5, 0.75, 1];
const gradientColours = ["blue", "#00ff00", "yellow", "orange", "red"]; // R "green" is full green

const width = 3840;
const height = 2304;
const panel = {left: 130, right: 3579, top: 63.5, bottom: 2191.7};

const x = d3.scaleLinear().domain([-13.73, 13.54]).range([panel.left, panel.right]);
const y = d3.scaleLinear().domain([-11.26, 13.78]).range([panel.bottom, panel.top]);

// ggplot gradients are mixed in Lab, that is where the grey between blue and green comes from
const colour = d3.scaleLinear()
    .domain(legendTicks)
    .range(gradientColours)
    .interpolate(d3.interpolateLab);

const svg = d3.select("#chart").append("svg")
    .attr("width", width)
    .attr("height", height);

svg.append("rect").attr("width", width).attr("height", height).attr("fill", "#fff");

const cells = [].concat(upperLeftCells, midLeftCells, fanCells, diagonalCells, upperStreakCells,
    lowerStripCells, starCells, topBlobCells, rightSmallCells, bottomBlobCells, looseCells);

svg.append("g").selectAll("circle")
    .data(cells)
    .enter()
    .append("circle")
    .attr("cx", d => x(d[0]))
    .attr("cy", d => y(d[1]))
    .attr("r", 5.4)
    .attr("fill", d => colour(d[2]));

// panel border
svg.append("rect")
    .attr("x", panel.left)
    .attr("y", panel.top)
    .attr("width", panel.right - panel.left)
    .attr("height", panel.bottom - panel.top)
    .attr("fill", "none")
    .attr("stroke", "#5c5c5c")
    .attr("stroke-width", 2);

const xAxis = svg.append("g")
    .attr("transform", `translate(0, ${panel.bottom})`)
    .call(d3.axisBottom(x).tickValues(xTicks).tickFormat(String).tickSize(9).tickPadding(6));
const yAxis = svg.append("g")
    .attr("transform", `translate(${panel.left}, 0)`)
    .call(d3.axisLeft(y).tickValues(yTicks).tickFormat(String).tickSize(9).tickPadding(5));

[xAxis, yAxis].forEach(a => {
    a.select(".domain").remove();
    a.selectAll("line").attr("stroke", "#333").attr("stroke-width", 2.5);
    a.selectAll("text")
        .attr("fill", "#4d4d4d")
        .style("font-family", '"Liberation Sans"')
        .style("font-size", "41px");
});

svg.append("text")
    .attr("x", panel.left)
    .attr("y", 41)
    .attr("font-size", 35.5)
    .attr("fill", "#000")
    .text("Contamination level in each cell in Sample: ctrl_gut_CD45_2");

svg.append("text")
    .attr("x", (panel.left + panel.right) / 2)
    .attr("y", 2280)
    .attr("text-anchor", "middle")
    .attr("font-size", 40)
    .attr("fill", "#000")
    .text("DecontX_UMAP_1");

svg.append("text")
    .attr("transform", `translate(46, ${(panel.top + panel.bottom) / 2}) rotate(-90)`)
    .attr("text-anchor", "middle")
    .attr("font-size", 40)
    .attr("fill", "#000")
    .text("DecontX_UMAP_2");

// colour bar
const legendX = 3623.5;
const legendW = 46.5;
const legendY = d3.scaleLinear().domain([0, 1]).range([1264.3, 1035]);

const gradient = svg.append("defs").append("linearGradient")
    .attr("id", "contamination")
    .attr("x1", 0).attr("x2", 0).attr("y1", 1).attr("y2", 0);
gradient.selectAll("stop")
    .data(d3.range(0, 1.001, 0.02))
    .enter()
    .append("stop")
    .attr("offset", d => d)
    .attr("stop-color", d => colour(d));

svg.append("rect")
    .attr("x", legendX)
    .attr("y", legendY(1))
    .attr("width", legendW)
    .attr("height", legendY(0) - legendY(1))
    .attr("fill", "url(#contamination)");

svg.append("text")
    .attr("x", legendX)
    .attr("y", 1016)
    .attr("font-size", 29)
    .attr("fill", "#000")
    .text("Contamination");

const legendTick = svg.append("g").selectAll("g")
    .data(legendTicks)
    .enter()
    .append("g");
legendTick.append("line")
    .attr("x1", legendX).attr("x2", legendX + 9.3)
    .attr("y1", d => legendY(d)).attr("y2", d => legendY(d))
    .attr("stroke", "#fff").attr("stroke-width", 1);
legendTick.append("line")
    .attr("x1", legendX + legendW - 9.3).attr("x2", legendX + legendW)
    .attr("y1", d => legendY(d)).attr("y2", d => legendY(d))
    .attr("stroke", "#fff").attr("stroke-width", 1);
legendTick.append("text")
    .attr("x", 3684)
    .attr("y", d => legendY(d) + 8)
    .attr("font-size", 23)
    .attr("fill", "#000")
    .text(d => d3.format(".2f")(d));
</script>
</body>
</html>
